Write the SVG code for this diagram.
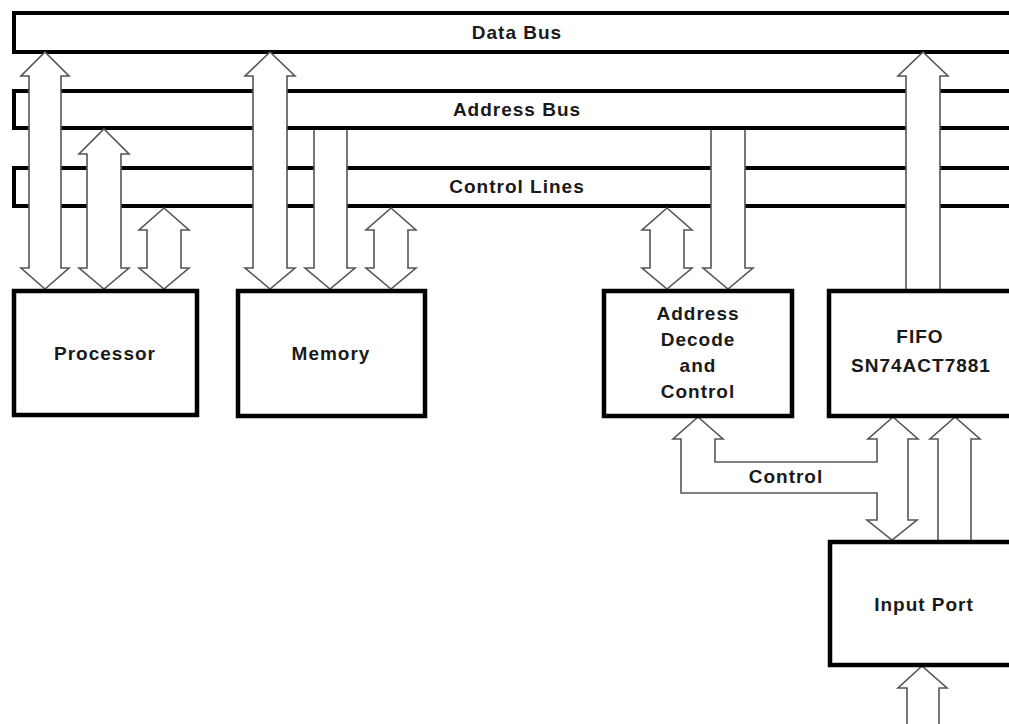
<svg xmlns="http://www.w3.org/2000/svg" width="1009" height="724" viewBox="0 0 1009 724">
  <style>
    .bus { fill: #ffffff; stroke: #000000; stroke-width: 4; stroke-linejoin: miter; }
    .box { fill: #ffffff; stroke: #000000; stroke-width: 4.5; }
    .arrow { fill: #ffffff; stroke: #555555; stroke-width: 1.6; stroke-linejoin: miter; }
    .label { font-family: "Liberation Sans", Arial, sans-serif; font-weight: bold; font-size: 19px; letter-spacing: 1px; fill: #1a1a1a; text-anchor: middle; }
  </style>
  <rect width="1009" height="724" fill="#ffffff"/>

  <!-- Buses: open on the right edge -->
  <g id="data-bus">
    <path class="bus" d="M1012,13 H14 V52 H1012"/>
    <text class="label" x="517" y="39">Data Bus</text>
  </g>
  <g id="address-bus">
    <path class="bus" d="M1012,91 H14 V128 H1012"/>
    <text class="label" x="517" y="116">Address Bus</text>
  </g>
  <g id="control-lines">
    <path class="bus" d="M1012,168 H14 V206 H1012"/>
    <text class="label" x="517" y="193">Control Lines</text>
  </g>

  <!-- Connectors: hollow block arrows drawn over the buses -->
  <g id="connectors">
    <!-- Processor -->
    <polygon class="arrow" points="45,52 69,76 61,76 61,268 69,268 45,289 21,268 29,268 29,76 21,76"/>
    <polygon class="arrow" points="104,129 129,154 121,154 121,268 129,268 104,289 79,268 87,268 87,154 79,154"/>
    <polygon class="arrow" points="164,208 189,230 181,230 181,268 189,268 164,289 139,268 147,268 147,230 139,230"/>
    <!-- Memory -->
    <polygon class="arrow" points="270,52 295,76 287,76 287,268 295,268 270,289 245,268 253,268 253,76 245,76"/>
    <path class="arrow" d="M314,130 V268 H305 L330,289 L355,268 H347 V130"/>
    <polygon class="arrow" points="391,208 416,230 408,230 408,268 416,268 391,289 366,268 374,268 374,230 366,230"/>
    <!-- Address Decode and Control -->
    <polygon class="arrow" points="667,208 692,230 684,230 684,268 692,268 667,289 642,268 650,268 650,230 642,230"/>
    <path class="arrow" d="M711,130 V268 H703 L728,289 L753,268 H745 V130"/>
    <!-- FIFO to data bus -->
    <path class="arrow" d="M906,289 V76 H898 L923,52 L948,76 H940 V289"/>
    <!-- Control path: decode <-> FIFO <-> input port -->
    <polygon class="arrow" points="893,417 918,439 908,439 908,520 917,520 892,540 867,520 877,520 877,493 681,493 681,439 673,439 698,417 723,439 715,439 715,462 877,462 877,439 868,439"/>
    <!-- Input port to FIFO -->
    <path class="arrow" d="M938,541 V439 H930 L955,417 L980,439 H971 V541"/>
    <!-- External input to input port -->
    <path class="arrow" d="M907,726 V688 H898 L922,666 L947,688 H939 V726"/>
    <text class="label" x="786" y="483">Control</text>
  </g>

  <!-- Nodes -->
  <g id="processor">
    <rect class="box" x="14" y="291" width="183" height="124"/>
    <text class="label" x="105" y="360">Processor</text>
  </g>
  <g id="memory">
    <rect class="box" x="238" y="291" width="187" height="125"/>
    <text class="label" x="331" y="360">Memory</text>
  </g>
  <g id="address-decode">
    <rect class="box" x="604" y="291" width="188" height="125"/>
    <text class="label" x="698" y="320">Address</text>
    <text class="label" x="698" y="346">Decode</text>
    <text class="label" x="698" y="372">and</text>
    <text class="label" x="698" y="398">Control</text>
  </g>
  <g id="fifo">
    <rect class="box" x="829" y="291" width="200" height="125"/>
    <text class="label" x="920" y="343">FIFO</text>
    <text class="label" x="921" y="372">SN74ACT7881</text>
  </g>
  <g id="input-port">
    <rect class="box" x="830" y="542" width="200" height="123"/>
    <text class="label" x="924" y="611">Input Port</text>
  </g>
</svg>
